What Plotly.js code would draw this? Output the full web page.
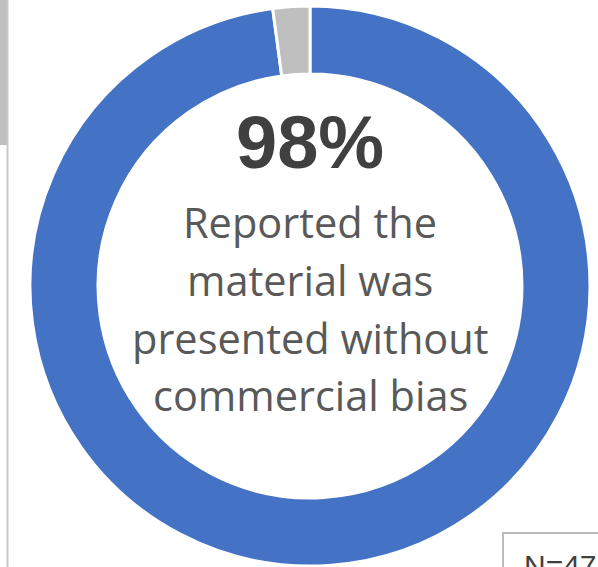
<!DOCTYPE html>
<html><head><meta charset="utf-8">
<script src="https://cdn.plot.ly/plotly-3.0.1.min.js"></script>
<style>html,body{margin:0;padding:0;background:#fff;overflow:hidden}#c{width:598px;height:567px}</style>
</head><body><div id="c"></div>
<script>
const labels = ["Without commercial bias", "Other"];
const counts = [46, 1];
const colors = ["#4472C4", "#BFBFBF"];
const headline = "98%";
const caption = ["Reported the", "material was", "presented without", "commercial bias"];
const sampleLabel = "N=47";

const W = 598, H = 567;
const px = x => x / W, py = y => 1 - y / H;
const cx = 310, cy = 286, R = 280;

const data = [{
  type: "pie", labels: labels, values: counts, hole: 0.757, sort: false,
  direction: "clockwise", rotation: 0,
  marker: {colors: colors, line: {color: "#FFFFFF", width: 3}},
  textinfo: "none", hoverinfo: "none", showlegend: false,
  domain: {x: [px(cx - R), px(cx + R)], y: [py(cy + R), py(cy - R)]}
}];

const annotations = [{
  text: "<b>" + headline + "</b>", x: px(cx), y: py(142), xref: "paper", yref: "paper",
  showarrow: false, font: {family: "Liberation Sans, Arial", size: 74, color: "#404040"},
  xanchor: "center", yanchor: "middle"
}];
const lineY = [222, 280, 338, 395];
caption.forEach((t, i) => annotations.push({
  text: t, x: px(cx), y: py(lineY[i]), xref: "paper", yref: "paper", showarrow: false,
  font: {family: "Open Sans, Liberation Sans", size: 41.5, color: "#595959"},
  xanchor: "center", yanchor: "middle"
}));
annotations.push({
  text: sampleLabel, x: px(522), y: py(565), xref: "paper", yref: "paper", showarrow: false,
  font: {family: "Liberation Sans, Arial", size: 30, color: "#404040"},
  xanchor: "left", yanchor: "middle"
});

const shapes = [
  {type: "rect", xref: "paper", yref: "paper", x0: 0, x1: px(7), y0: py(145), y1: 1,
   fillcolor: "#BFBFBF", line: {width: 0}, layer: "below"},
  {type: "line", xref: "paper", yref: "paper", x0: px(7.5), x1: px(7.5), y0: 0, y1: 1,
   line: {color: "#C8C8C8", width: 2}},
  {type: "rect", xref: "paper", yref: "paper", x0: px(503), x1: px(640), y0: py(600), y1: py(533),
   fillcolor: "rgba(0,0,0,0)", line: {color: "#A6A6A6", width: 1.5}}
];

Plotly.newPlot("c", data, {
  width: W, height: H, margin: {l: 0, r: 0, t: 0, b: 0},
  paper_bgcolor: "#FFFFFF", plot_bgcolor: "#FFFFFF",
  annotations: annotations, shapes: shapes, showlegend: false
}, {staticPlot: true});
</script></body></html>
